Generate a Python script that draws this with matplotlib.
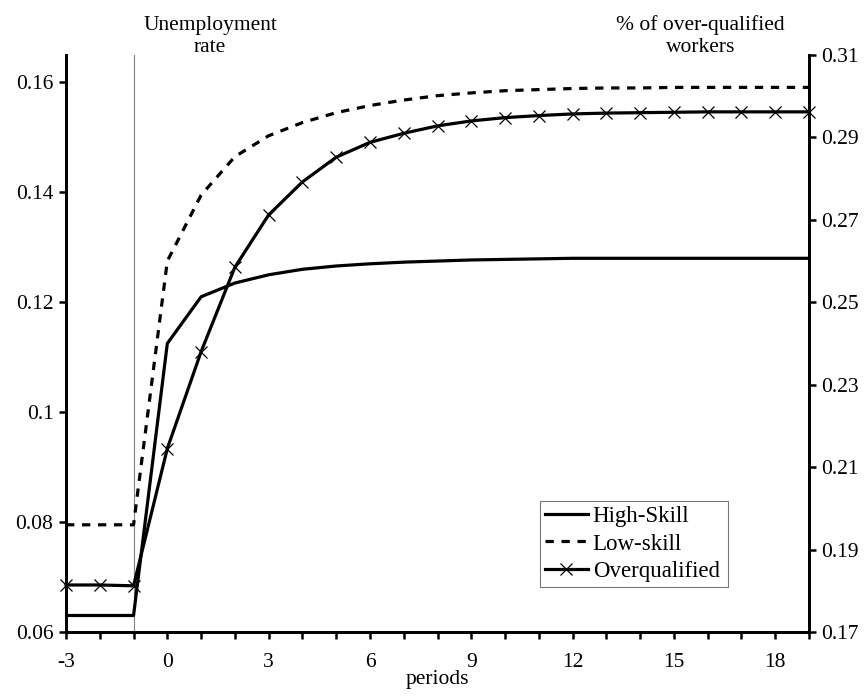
import numpy as np
import matplotlib
matplotlib.use("Agg")
import matplotlib.pyplot as plt
from matplotlib.ticker import MultipleLocator

plt.rcParams['font.family'] = ['Liberation Serif', 'DejaVu Serif']
plt.rcParams['axes.unicode_minus'] = False

periods = np.arange(-3, 20)

# unemployment rates (left axis)
high_skill = [0.063, 0.063, 0.063, 0.1125, 0.121, 0.1235, 0.125, 0.126, 0.1266,
              0.127, 0.1273, 0.1275, 0.1277, 0.1278, 0.1279, 0.128, 0.128,
              0.128, 0.128, 0.128, 0.128, 0.128, 0.128]
low_skill = [0.0795, 0.0795, 0.0795, 0.1275, 0.1395, 0.1465, 0.1503, 0.1527, 0.1545,
             0.1558, 0.1568, 0.1576, 0.1581, 0.1585, 0.1587, 0.1589, 0.159,
             0.159, 0.1591, 0.1591, 0.1591, 0.1591, 0.1591]
# share of over-qualified workers (right axis)
overqualified = [0.1814, 0.1814, 0.1812, 0.2145, 0.238, 0.2585, 0.2712, 0.2792,
                 0.2852, 0.2888, 0.291, 0.2928, 0.294, 0.2948, 0.2953, 0.2957,
                 0.2959, 0.296, 0.2961, 0.2962, 0.2962, 0.2962, 0.2962]

left_ticks = [0.06, 0.08, 0.1, 0.12, 0.14, 0.16]
right_ticks = [0.17, 0.19, 0.21, 0.23, 0.25, 0.27, 0.29, 0.31]
x_labels = [-3, 0, 3, 6, 9, 12, 15, 18]

fig = plt.figure(figsize=(8.65, 6.96), dpi=100)
ax = fig.add_axes([0.0763, 0.092, 0.859, 0.829])
ax2 = ax.twinx()

ax.axvline(-1, color='#808080', lw=0.8, zorder=1)

l1, = ax.plot(periods, high_skill, color='black', lw=2.3, label='High-Skill')
l2, = ax.plot(periods, low_skill, color='black', lw=2.3, ls=(0, (2.6, 2.4)),
              label='Low-skill')
l3, = ax2.plot(periods, overqualified, color='black', lw=2.3, marker='x',
               ms=9, mew=0.9, label='Overqualified', clip_on=False)

ax.set_xlim(-3, 19)
ax.set_ylim(0.06, 0.165)
ax2.set_ylim(0.17, 0.31)
ax.set_yticks(left_ticks)
ax.set_yticklabels([f'{v:g}' for v in left_ticks])
ax2.set_yticks(right_ticks)
ax2.set_yticklabels([f'{v:g}' for v in right_ticks])
ax.set_xticks(x_labels)
ax.xaxis.set_minor_locator(MultipleLocator(1))

for a in (ax, ax2):
    a.spines['top'].set_visible(False)
    for s in ('left', 'right', 'bottom'):
        a.spines[s].set_linewidth(2)
    a.tick_params(which='both', width=1.8, length=5, labelsize=15.5, direction='out')
ax.tick_params(axis='x', which='major', pad=10)
ax.tick_params(axis='y', pad=4)
ax2.tick_params(axis='y', pad=4)

ax.set_xlabel('periods', fontsize=15.5, labelpad=-1)

fig.text(0.243, 0.918, 'Unemployment\nrate', ha='center', va='bottom',
         fontsize=15.5, linespacing=1.25)
fig.text(0.81, 0.918, '% of over-qualified\nworkers', ha='center', va='bottom',
         fontsize=15.5, linespacing=1.25)

leg = ax2.legend(handles=[l1, l2, l3], loc='lower left',
                 bbox_to_anchor=(540 / 865, (696 - 587) / 696, 188 / 865, 94 / 696),
                 bbox_transform=fig.transFigure, mode='expand',
                 fontsize=16.5, frameon=True, fancybox=False, handlelength=1.9,
                 handletextpad=0.2, borderpad=0.2, labelspacing=0.3,
                 borderaxespad=0)
leg.get_frame().set_edgecolor('#555555')
leg.get_frame().set_linewidth(0.8)

fig.savefig('out.png', dpi=100)
